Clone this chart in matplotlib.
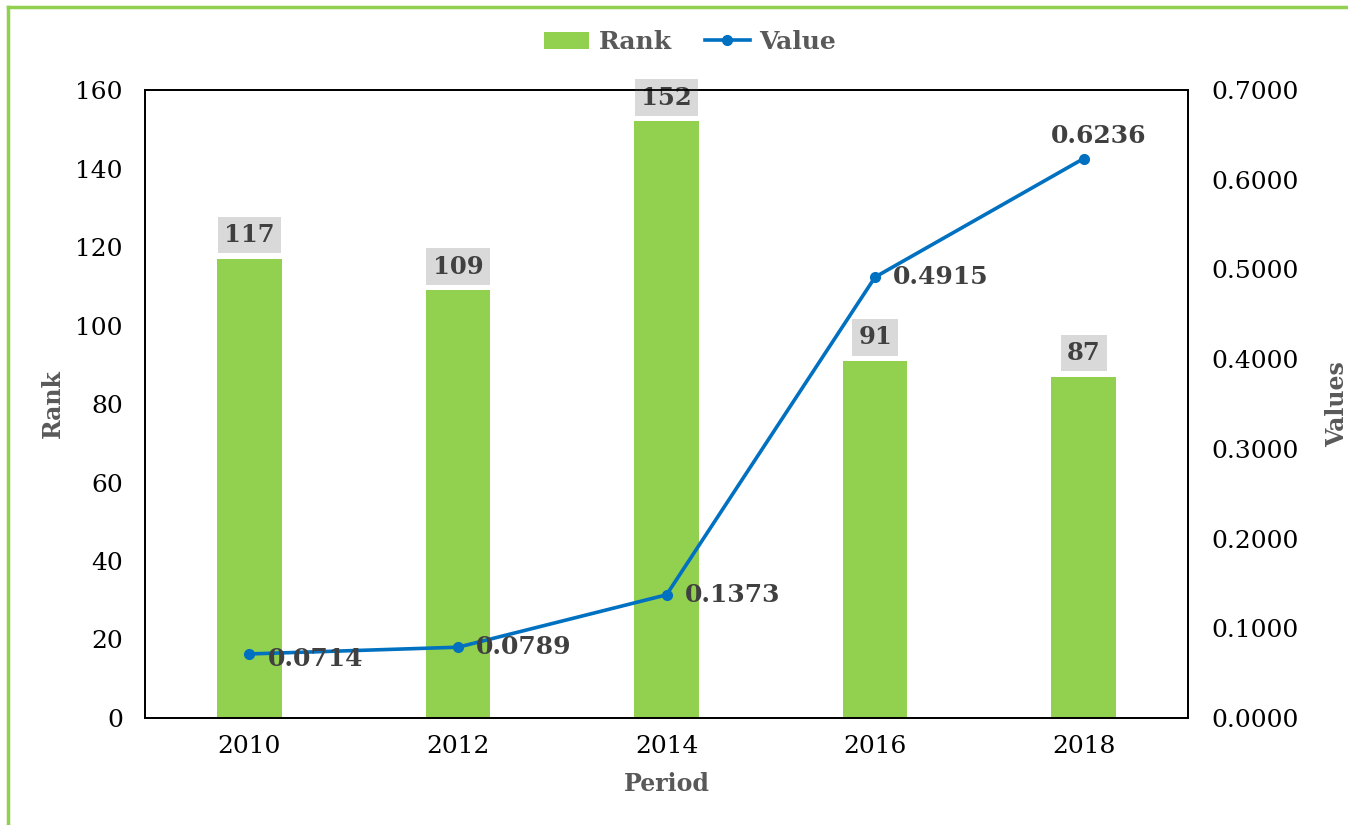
import matplotlib
matplotlib.use("Agg")
import matplotlib.pyplot as plt
from matplotlib.lines import Line2D

periods = ["2010", "2012", "2014", "2016", "2018"]
rank = [117, 109, 152, 91, 87]
values = [0.0714, 0.0789, 0.1373, 0.4915, 0.6236]

plt.rcParams['font.family'] = ['DejaVu Serif']

fig = plt.figure(figsize=(13.48, 8.25), dpi=100)
ax = fig.add_axes([0.1076, 0.1297, 0.7737, 0.7612])
ax2 = ax.twinx()

green = "#92d050"
blue = "#0070c0"
dark = "#404040"
grey = "#595959"

x = list(range(len(periods)))
bars = ax.bar(x, rank, width=0.31, color=green, label="Rank", zorder=2)
ax.set_xlim(-0.5, 4.5)
ax.set_ylim(0, 160)
ax.set_yticks(range(0, 161, 20))
ax.set_xticks(x)
ax.set_xticklabels(periods)

for xi, r in zip(x, rank):
    ax.annotate(str(r), (xi, r), xytext=(0, 17), textcoords="offset points",
                ha="center", va="center", fontsize=17.5, fontweight="bold", color=dark,
                bbox=dict(boxstyle="square,pad=0.26", fc="#d9d9d9", ec="none"))

line, = ax2.plot(x, values, color=blue, lw=2.6, marker="o", ms=7, label="Value", zorder=3)
ax2.set_ylim(0, 0.7)
ax2.set_yticks([i / 10 for i in range(8)])
ax2.set_yticklabels([f"{i/10:.4f}" for i in range(8)])

offsets = [(13, -4), (13, 0), (13, 0), (13, 0), (11, 16)]
has = ["left", "left", "left", "left", "center"]
for xi, v, off, h in zip(x, values, offsets, has):
    ax2.annotate(f"{v:.4f}", (xi, v), xytext=off, textcoords="offset points",
                 ha=h, va="center", fontsize=18, fontweight="bold", color=dark)

ax.tick_params(axis="y", length=0, labelsize=18, colors="black", pad=16)
ax.tick_params(axis="x", length=0, labelsize=18, colors="black", pad=12)
ax2.tick_params(axis="y", length=0, labelsize=18, colors="black", pad=17)
for a in (ax, ax2):
    for s in a.spines.values():
        s.set_color("black")
        s.set_linewidth(1.3)

ax.set_xlabel("Period", fontsize=17, fontweight="bold", color=grey, labelpad=10)
ax.set_ylabel("Rank", fontsize=17, fontweight="bold", color=grey, labelpad=7.5)
ax2.set_ylabel("Values", fontsize=17, fontweight="bold", color=grey, labelpad=19)

fig.legend(handles=[bars, line], labels=["Rank", "Value"], loc="center",
           bbox_to_anchor=(0.512, 0.949), ncol=2, frameon=False,
           prop=dict(size=18, weight="bold"), labelcolor=grey,
           handlelength=1.8, columnspacing=1.3, handletextpad=0.4)

# green frame (left and top)
fig.add_artist(Line2D([0.006, 0.006], [0.0, 0.991], transform=fig.transFigure, color=green, lw=2.5))
fig.add_artist(Line2D([0.006, 1.0], [0.991, 0.991], transform=fig.transFigure, color=green, lw=2.5))

fig.savefig("out.png", dpi=100)
